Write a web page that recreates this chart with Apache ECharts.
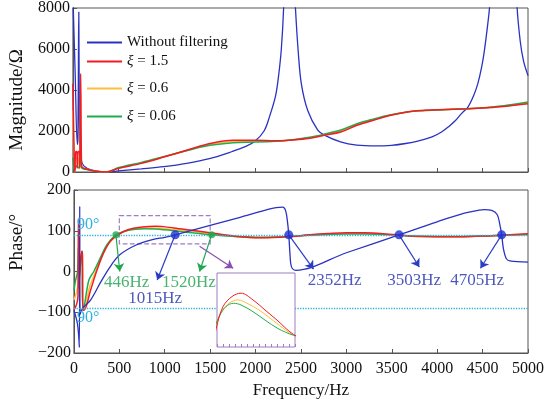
<!DOCTYPE html>
<html lang="en">
<head>
<meta charset="UTF-8">
<title>Impedance</title>
<script src="https://cdn.jsdelivr.net/npm/echarts@6/dist/echarts.min.js"></script>
<style>html,body{margin:0;padding:0;background:#fff;}</style>
</head>
<body>
<div id="main" style="width:550px;height:407px;"></div>
<script>
var names = ['Without filtering', 'ξ = 1.5', 'ξ = 0.6', 'ξ = 0.06'];
var colors = ['#2a32c2', '#f21c24', '#ffbe3c', '#21ad4f'];

// magnitude [Hz, ohm]
var blueMag = [[0, 8600], [25, 4800], [48, 1350], [55, 1600], [62, 6500], [65, 7800], [69, 4000], [75, 1500], [90, 600],
  [120, 300], [200, 100], [300, 20], [380, 0], [500, 50], [750, 150], [1000, 260], [1250, 420], [1500, 650], [1750, 1000],
  [1900, 1250], [2000, 1500], [2100, 2000], [2160, 2700], [2226, 3700], [2260, 4700], [2290, 6000], [2315, 8000],
  [2340, 12000], [2400, 12000], [2445, 8000], [2475, 5900], [2510, 4300], [2580, 3000], [2690, 2040], [2763, 1800],
  [2940, 1470], [3118, 1310], [3333, 1270], [3500, 1300], [3656, 1390], [3800, 1520], [3946, 1710], [4050, 1950],
  [4125, 2200], [4200, 2500], [4269, 2850], [4340, 3170], [4400, 3700], [4448, 4300], [4490, 5100], [4520, 5900],
  [4560, 7300], [4580, 8200], [4610, 12000], [4850, 12000], [4878, 8200], [4914, 6400], [4950, 5430], [5000, 4700]];
var redMag = [[0, 4300], [15, 500], [22, 0], [30, 1000], [42, 1000], [48, 200], [55, 1000], [68, 1000], [75, 200],
  [85, 4800], [95, 300], [110, 200], [150, 150], [250, 40], [365, 0], [505, 180], [753, 420], [1007, 740], [1258, 1070],
  [1505, 1390], [1760, 1550], [2010, 1550], [2226, 1520], [2400, 1560], [2584, 1630], [2763, 1790], [2943, 1950],
  [3122, 2280], [3301, 2520], [3480, 2760], [3656, 2920], [3839, 3000], [4018, 3040], [4340, 3090], [4555, 3140],
  [4735, 3200], [5000, 3330]];
var orangeMag = [[0, 3000], [15, 300], [22, 0], [30, 700], [45, 700], [55, 400], [68, 700], [75, 150], [85, 3800],
  [95, 250], [110, 180], [150, 140], [250, 40], [365, 0], [505, 200], [753, 445], [1007, 750], [1258, 1060],
  [1505, 1350], [1760, 1490], [2010, 1505], [2226, 1510], [2400, 1560], [2584, 1655], [2763, 1820], [2943, 2000],
  [3122, 2315], [3301, 2550], [3480, 2770], [3656, 2920], [3839, 2995], [4018, 3035], [4340, 3090], [4555, 3145],
  [4735, 3215], [5000, 3370]];
var greenMag = [[0, 700], [20, 100], [40, 300], [60, 200], [85, 800], [95, 200], [150, 120], [250, 40], [365, 0],
  [505, 220], [753, 470], [1007, 760], [1258, 1050], [1505, 1300], [1760, 1430], [2010, 1460], [2226, 1500],
  [2400, 1560], [2584, 1680], [2763, 1850], [2943, 2050], [3122, 2350], [3301, 2580], [3480, 2780], [3656, 2920],
  [3839, 2990], [4018, 3030], [4340, 3090], [4555, 3150], [4735, 3230], [5000, 3410]];

// phase [Hz, deg]
var bluePhase = [[0, -95], [40, -130], [60, -186], [64, 160], [68, -105], [97, -90], [183, -70], [290, -28], [400, 12],
  [505, 41], [685, 65], [864, 78], [1000, 84], [1115, 90], [1500, 113], [1830, 133], [2100, 150], [2226, 157],
  [2300, 158], [2330, 150], [2350, 125], [2366, 90], [2380, 40], [2395, 12], [2441, 3], [3000, 46], [3580, 90],
  [4000, 122], [4300, 143], [4450, 150], [4516, 152], [4600, 150], [4660, 140], [4690, 115], [4710, 90], [4730, 55],
  [4760, 32], [4800, 26], [5000, 23]];
var redPhase = [[0, -95], [30, -80], [45, -60], [50, 130], [54, -40], [70, 20], [88, 50], [93, 45], [97, -95],
  [111, -95], [183, -46], [255, 4], [326, 45], [400, 74], [487, 90], [600, 103], [750, 109], [900, 111], [1100, 107],
  [1300, 101], [1500, 95], [1775, 86.5], [2065, 82.6], [2355, 85], [2600, 90], [2800, 93], [3000, 95], [3200, 95],
  [3500, 91], [3806, 86.5], [4237, 85], [4600, 88], [5000, 92.5]];
var orangePhase = [[0, -70], [30, -50], [45, -30], [50, 90], [54, -30], [70, 15], [88, 48], [93, 42], [97, -92],
  [111, -92], [170, -40], [240, 0], [310, 40], [380, 68], [475, 90], [560, 99], [700, 105], [850, 107], [1000, 105],
  [1200, 101], [1500, 93], [1775, 86], [2065, 83], [2355, 85.5], [2600, 89.5], [2800, 92], [3000, 93.5], [3200, 93.5],
  [3500, 90.5], [3806, 86], [4237, 85.5], [4600, 88], [5000, 92]];
var greenPhase = [[0, -46], [20, -20], [40, 0], [50, 60], [54, -20], [70, 10], [88, 50], [93, 40], [97, -90],
  [111, -87], [165, -21], [219, 0], [290, 33], [362, 65], [462, 90], [550, 98], [650, 103], [775, 105], [900, 104],
  [1100, 100], [1300, 95], [1516, 90], [1775, 86], [2065, 84], [2355, 86], [2600, 89], [2800, 91], [3000, 92],
  [3200, 92], [3500, 90], [3806, 86], [4237, 86], [4600, 88], [5000, 91]];

// crossing points and their annotations
var greenDots = [[462, 90], [1516, 90]];
var greenTips = [[505, 0], [1384, 0]];
var greenLabels = ['446Hz', '1520Hz'];
var greenLabelPos = [[581, -28], [1265, -28]];
var blueDots = [[1115, 90], [2366, 90], [3580, 90], [4710, 90]];
var blueTips = [[917, -21], [2638, 6], [3803, 11], [4477, 8]];
var blueLabels = ['1015Hz', '2352Hz', '3503Hz', '4705Hz'];
var blueLabelPos = [[895, -66], [2871, -23], [3747, -23], [4441, -23]];
var zoomBox = [[500, 137], [1500, 68]];
var zoomArrow = [[1384, 62], [1753, 8]];
var refLines = [90, -90];

var serif = 'Liberation Serif, Times New Roman, serif';
var axisColor = '#555';
var purple = '#a07cc4';
var cyan = '#2bb3dc';

var chart = echarts.init(document.getElementById('main'));

function plain(v) { return String(v).replace('-', '\u2212'); }

function legendItem(i, top) {
    return {
        left: 82, top: top, data: [names[i]], icon: 'rect', itemWidth: 35, itemHeight: 2,
        textStyle: {fontFamily: serif, fontSize: 15, color: '#111',
            rich: {i: {fontFamily: serif, fontSize: 15, fontStyle: 'italic', color: '#111'}}},
        formatter: function (n) { return n.charAt(0) === 'ξ' ? '{i|ξ}' + n.slice(1) : n; }
    };
}

function line(data, c, xi, w, z) {
    return {
        type: 'line', data: data, xAxisIndex: xi, yAxisIndex: xi, showSymbol: false, symbol: 'none',
        smooth: 0.35, lineStyle: {color: c, width: w}, itemStyle: {color: c}, z: z
    };
}

function arrows(from, to, color) {
    return from.map(function (p, i) {
        return [{coord: p, lineStyle: {color: color}}, {coord: to[i]}];
    });
}

function textSeries(pos, labels, color) {
    return {
        type: 'scatter', xAxisIndex: 1, yAxisIndex: 1, symbolSize: 1, silent: true,
        itemStyle: {color: 'rgba(0,0,0,0)'}, z: 6,
        data: pos.map(function (p, i) { return {value: p, name: labels[i]}; }),
        label: {show: true, position: 'inside', formatter: '{b}', color: color, fontFamily: serif, fontSize: 17}
    };
}

var series = [];
// magnitude
series.push(Object.assign(line(blueMag, colors[0], 0, 1.3, 2), {name: names[0]}));
series.push(Object.assign(line(orangeMag, colors[2], 0, 1.5, 2), {name: names[2]}));
series.push(Object.assign(line(greenMag, colors[3], 0, 1.5, 2), {name: names[3]}));
series.push(Object.assign(line(redMag, colors[1], 0, 1.5, 2), {name: names[1]}));
// phase
var bp = Object.assign(line(bluePhase, colors[0], 1, 1.3, 3), {name: names[0]});
bp.markLine = {
    silent: true, symbol: 'none',
    lineStyle: {color: cyan, type: 'dotted', width: 1.3},
    data: [
        {yAxis: refLines[0], label: {show: true, formatter: '90°', position: 'insideStartTop', distance: [3, 2],
            color: cyan, fontFamily: serif, fontSize: 16}},
        {yAxis: refLines[1], label: {show: true, formatter: '90°', position: 'insideStartBottom', distance: [3, 2],
            color: cyan, fontFamily: serif, fontSize: 16}}
    ]
};
bp.markArea = {
    silent: true,
    itemStyle: {color: 'rgba(0,0,0,0)', borderColor: purple, borderWidth: 1.2, borderType: 'dashed'},
    data: [[{coord: zoomBox[0]}, {coord: zoomBox[1]}]]
};
series.push(Object.assign(line(orangePhase, colors[2], 1, 1.5, 2), {name: names[2]}));
series.push(Object.assign(line(greenPhase, colors[3], 1, 1.5, 2), {name: names[3]}));
series.push(Object.assign(line(redPhase, colors[1], 1, 1.5, 2), {name: names[1]}));
series.push(bp);

// dots + arrows
series.push({
    type: 'scatter', xAxisIndex: 1, yAxisIndex: 1, data: greenDots, symbolSize: 7, silent: true,
    itemStyle: {color: '#1fa84f'}, z: 5,
    markLine: {silent: true, symbol: ['none', 'arrow'], symbolSize: 8, label: {show: false},
        lineStyle: {width: 1.2, type: 'solid'}, data: arrows(greenDots, greenTips, '#1fa84f')}
});
series.push({
    type: 'scatter', xAxisIndex: 1, yAxisIndex: 1, data: blueDots, symbolSize: 9, silent: true,
    itemStyle: {color: '#1f2fd0'}, z: 5,
    markLine: {silent: true, symbol: ['none', 'arrow'], symbolSize: 8, label: {show: false},
        lineStyle: {width: 1.2, type: 'solid'},
        data: arrows(blueDots, blueTips, '#2a3cc4').concat(arrows([zoomArrow[0]], [zoomArrow[1]], '#8a4fb0'))}
});
series.push(textSeries(greenLabelPos, greenLabels, '#1a9f4c'));
series.push(textSeries(blueLabelPos, blueLabels, '#1f2eac'));

// inset
series.push(line(orangePhase, colors[2], 2, 1, 11));
series.push(line(greenPhase, colors[3], 2, 1, 11));
series.push(line(redPhase, colors[1], 2, 1, 11));

var labelStyle = {fontFamily: serif, fontSize: 16, color: '#111', formatter: plain};
var nameStyle = {fontFamily: serif, fontSize: 19, color: '#111'};

var option = {
    animation: false,
    backgroundColor: '#fff',
    legend: [legendItem(0, 30), legendItem(1, 49), legendItem(2, 76), legendItem(3, 104)],
    grid: [
        {left: 63, right: 22, top: 7, height: 165, show: true, borderColor: axisColor, borderWidth: 1},
        {left: 63, right: 22, top: 190, height: 163, show: true, borderColor: axisColor, borderWidth: 1},
        {left: 217, top: 273, width: 78, height: 74, show: true, backgroundColor: '#fff',
            borderColor: purple, borderWidth: 1, z: 10}
    ],
    xAxis: [
        {gridIndex: 0, type: 'value', min: 0, max: 5000, interval: 500,
            axisLabel: {show: false}, splitLine: {show: false},
            axisTick: {inside: true, length: 4, lineStyle: {color: axisColor}},
            axisLine: {onZero: false, lineStyle: {color: axisColor}}},
        {gridIndex: 1, type: 'value', min: 0, max: 5000, interval: 500,
            axisLabel: Object.assign({margin: 8}, labelStyle), splitLine: {show: false},
            axisTick: {inside: true, length: 4, lineStyle: {color: axisColor}},
            axisLine: {onZero: false, lineStyle: {color: axisColor}},
            name: 'Frequency/Hz', nameLocation: 'middle', nameGap: 29,
            nameTextStyle: {fontFamily: serif, fontSize: 17, color: '#111'}},
        {gridIndex: 2, type: 'value', min: 500, max: 1800, interval: 100, z: 12,
            axisLabel: {show: false}, splitLine: {show: false}, axisLine: {show: false},
            axisTick: {inside: true, length: 3, lineStyle: {color: purple}}}
    ],
    yAxis: [
        {gridIndex: 0, type: 'value', min: 0, max: 8000, interval: 2000,
            axisLabel: Object.assign({margin: 3}, labelStyle), splitLine: {show: false},
            axisTick: {inside: true, length: 4, lineStyle: {color: axisColor}},
            axisLine: {show: true, onZero: false, lineStyle: {color: axisColor}},
            name: 'Magnitude/Ω', nameLocation: 'middle', nameRotate: 90, nameGap: 36,
            nameTextStyle: Object.assign({padding: [0, 20, 0, 0]}, nameStyle)},
        {gridIndex: 1, type: 'value', min: -200, max: 200, interval: 100,
            axisLabel: Object.assign({margin: 3}, labelStyle), splitLine: {show: false},
            axisTick: {inside: true, length: 4, lineStyle: {color: axisColor}},
            axisLine: {show: true, onZero: false, lineStyle: {color: axisColor}},
            name: 'Phase/°', nameLocation: 'middle', nameRotate: 90, nameGap: 36,
            nameTextStyle: Object.assign({padding: [0, 0, 0, 58]}, nameStyle)},
        {gridIndex: 2, type: 'value', min: 79, max: 123, z: 12,
            axisLabel: {show: false}, splitLine: {show: false}, axisLine: {show: false}, axisTick: {show: false}}
    ],
    series: series
};

chart.setOption(option);
</script>
</body>
</html>
